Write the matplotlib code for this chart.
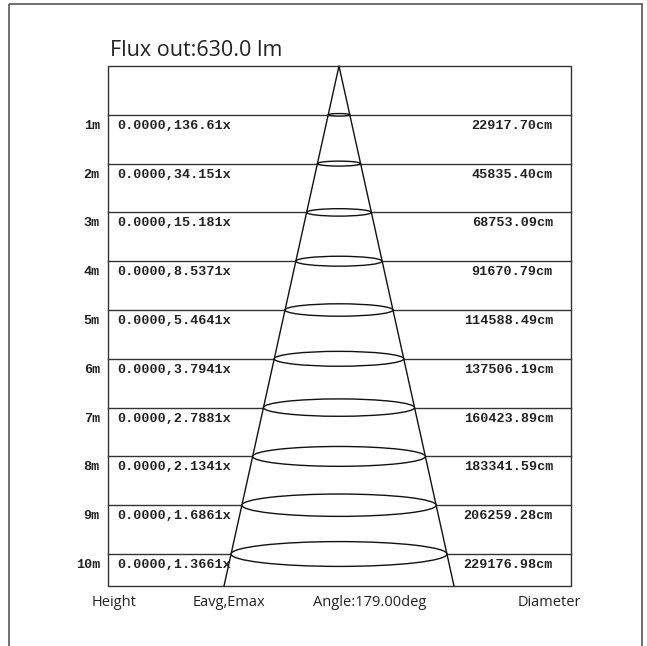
import numpy as np
import matplotlib.pyplot as plt
from matplotlib.patches import Ellipse, Rectangle

# data
heights = ["1m", "2m", "3m", "4m", "5m", "6m", "7m", "8m", "9m", "10m"]
illum = ["0.0000,136.61x", "0.0000,34.151x", "0.0000,15.181x", "0.0000,8.5371x",
         "0.0000,5.4641x", "0.0000,3.7941x", "0.0000,2.7881x", "0.0000,2.1341x",
         "0.0000,1.6861x", "0.0000,1.3661x"]
diams = ["22917.70cm", "45835.40cm", "68753.09cm", "91670.79cm", "114588.49cm",
         "137506.19cm", "160423.89cm", "183341.59cm", "206259.28cm", "229176.98cm"]
flux = "Flux out:630.0 lm"
angle = "Angle:179.00deg"

W, H = 647, 646
fig = plt.figure(figsize=(W / 100, H / 100), dpi=100)
ax = fig.add_axes([0, 0, 1, 1])
ax.set_xlim(0, W)
ax.set_ylim(H, 0)
ax.axis("off")

# layout in pixels
left, right = 108, 571
top, row_h = 66, 48.8
bottom = 586
cx = 339
half_bottom = 115
mono = dict(family="Liberation Mono", weight="bold", fontsize=9.7, color="#222222")
sans = ["Open Sans", "DejaVu Sans"]

# outer frame
ax.add_patch(Rectangle((9, 4), 633, 700, fill=False, lw=1.2, ec="#555555"))

# table
ax.add_patch(Rectangle((left, top), right - left, bottom - top, fill=False, lw=1.0, ec="#333333"))
for i in range(len(heights)):
    y = top + (i + 1) * row_h
    ax.plot([left, right], [y, y], color="#333333", lw=1.0)

# cone
ax.plot([cx - half_bottom, cx, cx + half_bottom], [bottom, top, bottom], color="#111111", lw=1.0)
for i in range(len(heights)):
    y = top + (i + 1) * row_h
    hw = half_bottom * (y - top) / (bottom - top)
    ax.add_patch(Ellipse((cx, y), 2 * hw, 0.115 * 2 * hw, fill=True, fc="white",
                         ec="#111111", lw=1.0, zorder=3))

# texts
for i in range(len(heights)):
    y = top + (i + 1) * row_h + 11
    ax.text(100, y, heights[i], ha="right", va="center", **mono)
    ax.text(117, y, illum[i], ha="left", va="center", zorder=4, **mono)
    ax.text(553, y, diams[i], ha="right", va="center", **mono)

ax.text(110, 51, flux, ha="left", va="center", family=sans, fontsize=15.5, color="#222222")
for x, s in [(114, "Height"), (229, "Eavg,Emax"), (370, angle), (549, "Diameter")]:
    ax.text(x, 602, s, ha="center", va="center", family=sans, fontsize=10.5, color="#222222")

fig.savefig("out.png", dpi=100)
